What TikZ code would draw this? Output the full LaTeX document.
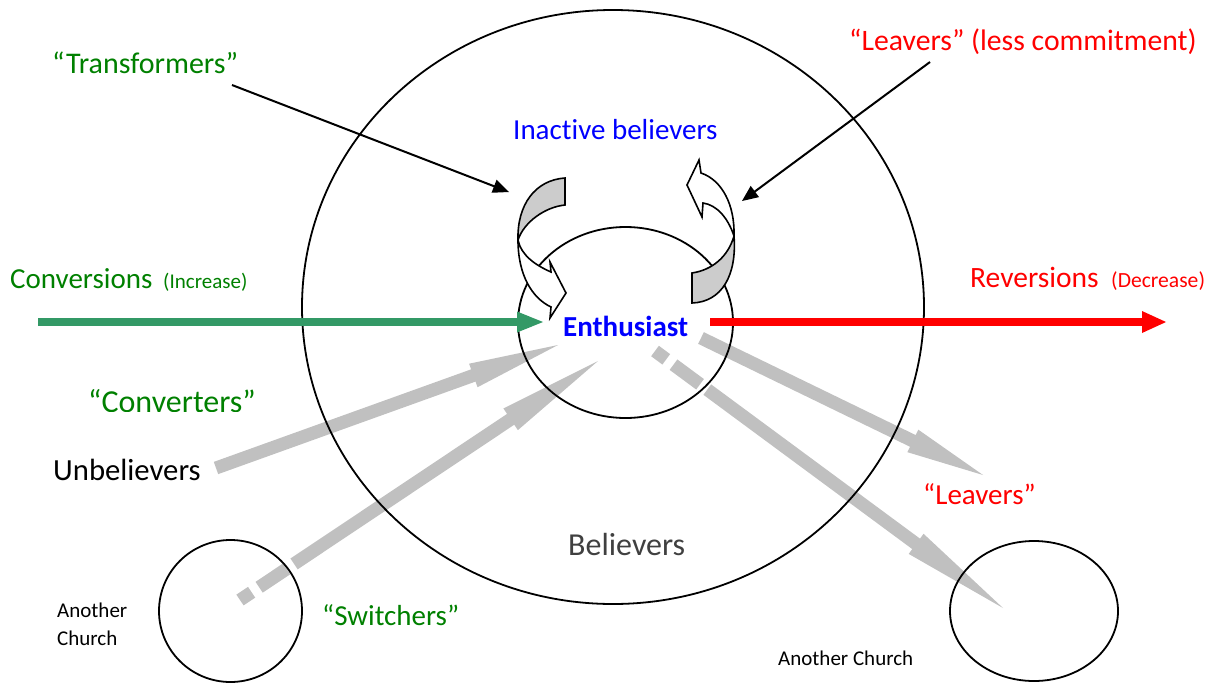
\documentclass[tikz,border=0pt]{standalone}
\usepackage{fontspec}
\setmainfont{Carlito}[Ligatures=NoCommon]
\usetikzlibrary{calc,shapes.geometric}
\definecolor{tgreen}{RGB}{0,128,0}
\definecolor{agreen}{RGB}{51,153,102}
\definecolor{tblue}{RGB}{0,0,255}
\definecolor{tred}{RGB}{255,0,0}
\definecolor{agray}{RGB}{192,192,192}
\definecolor{cgray}{RGB}{204,204,204}
\definecolor{bgray}{RGB}{64,64,64}
% #1 colour, #2 from, #3 to, #4 half width, #5 length
\newcommand\arrhead[5]{%
  \fill[#1] ($(#3)!#5!(#2)!#4!90:(#2)$) -- (#3) -- ($(#3)!#5!(#2)!#4!-90:(#2)$) -- cycle;}
\begin{document}
\begin{tikzpicture}[x=1pt,y=-1pt,
  txt/.style={anchor=base west, inner sep=0pt, font=\fontsize{29}{34}\selectfont},
  small/.style={anchor=base west, inner sep=0pt, font=\fontsize{21}{25}\selectfont},
  ring/.style={draw=black, line width=1.8pt, ellipse, inner sep=0pt},
  gshaft/.style={draw=agray, line width=13pt},
  gdashed/.style={gshaft, dash pattern=on 14pt off 9pt on 33pt off 9pt on 3000pt off 1pt},
  thinarrow/.style={draw=black, line width=2pt},
  curved/.style={draw=black, line width=1.6pt, line join=miter}]
\useasboundingbox (0,0) rectangle (1207,683);

% ---- gray block arrows
\coordinate (u1) at (216,468);  \coordinate (u2) at (558,345);
\coordinate (s1) at (240,600);  \coordinate (s2) at (598,361);
\coordinate (l1) at (701,338);  \coordinate (l2) at (983,475);
\coordinate (c1) at (655,351);  \coordinate (c2) at (1003,608);
\draw[gshaft] (u1) -- ($(u2)!88pt!(u1)$);
\arrhead{agray}{u1}{u2}{12.5pt}{90pt}
\draw[gdashed] (s1) -- ($(s2)!103pt!(s1)$);
\arrhead{agray}{s1}{s2}{13pt}{105pt}
\draw[gshaft] (l1) -- ($(l2)!76pt!(l1)$);
\arrhead{agray}{l1}{l2}{12.5pt}{78pt}
\draw[gdashed] (c1) -- ($(c2)!106pt!(c1)$);
\arrhead{agray}{c1}{c2}{12.5pt}{108pt}

% ---- circles
\node[ring, minimum width=622pt, minimum height=594pt] (believers) at (613,307) {};
\node[ring, minimum width=215pt, minimum height=191pt] (enthring) at (625.5,322.5) {};
\node[ring, minimum width=143pt, minimum height=142pt] (church1) at (230.5,611) {};
\node[ring, minimum width=168pt, minimum height=140pt] (church2) at (1034,611) {};

% ---- curved arrows (left)
\fill[cgray, curved] (565,178) .. controls (535,180) and (517,205) .. (518,240)
   .. controls (524,222) and (545,207) .. (565,205) -- cycle;
\fill[white, curved] (518,240) .. controls (518,275) and (532,298) .. (551,307)
   -- (550,318) -- (566,293) -- (550,262) -- (551,272)
   .. controls (535,265) and (521,255) .. (518,240) -- cycle;
% ---- curved arrows (right)
\fill[white, curved] (699,160) -- (701,173) .. controls (722,180) and (735,205) .. (734,236)
   .. controls (728,218) and (717,205) .. (703,203) -- (702,217) -- (687,185) -- cycle;
\fill[cgray, curved] (734,236) .. controls (737,275) and (722,302) .. (692,303)
   -- (692,273) .. controls (712,270) and (728,257) .. (734,236) -- cycle;

% ---- green and red arrows
\coordinate (gS) at (38,322);  \coordinate (gE) at (543,322);
\draw[agreen, line width=8pt] (gS) -- ($(gE)!24pt!(gS)$);
\arrhead{agreen}{gS}{gE}{10.5pt}{26pt}
\coordinate (rS) at (710,322); \coordinate (rE) at (1166,322);
\draw[tred, line width=8pt] (rS) -- ($(rE)!22pt!(rS)$);
\arrhead{tred}{rS}{rE}{11pt}{24pt}

% ---- thin black arrows
\coordinate (ta1) at (232,85);  \coordinate (ta2) at (509,192);
\draw[thinarrow] (ta1) -- ($(ta2)!13pt!(ta1)$);
\arrhead{black}{ta1}{ta2}{7pt}{16pt}
\coordinate (la1) at (930,62);  \coordinate (la2) at (742,201);
\draw[thinarrow] (la1) -- ($(la2)!13pt!(la1)$);
\arrhead{black}{la1}{la2}{7pt}{16pt}

% ---- texts
\node[txt, text=tgreen, font=\fontsize{30}{35}\selectfont] (transformers) at (52,73) {“Transformers”};
\node[txt, text=tred, font=\fontsize{29.7}{35}\selectfont] (lessc) at (849,50) {“Leavers” (less commitment)};
\node[txt, text=tblue] (inactive) at (513,139) {Inactive believers};
\node[txt, text=tgreen] (conv) at (10,288) {Conversions};
\node[small, text=tgreen] (incr) at (163,288) {(Increase)};
\node[txt, text=tred, font=\fontsize{29.5}{35}\selectfont] (rev) at (970,287) {Reversions};
\node[small, text=tred, font=\fontsize{21.6}{25}\selectfont] (decr) at (1111,287) {(Decrease)};
\node[txt, text=tblue, font=\fontsize{29}{34}\selectfont\bfseries] (enth) at (563,336) {Enthusiast};
\begin{scope}
  \clip (60,370) rectangle (300,411);
  \node[txt, text=tgreen, font=\fontsize{32}{38}\selectfont] (converters) at (88,412) {“Converters”};
\end{scope}
\node[txt, text=black, font=\fontsize{30.7}{36}\selectfont] (unbel) at (53,480) {Unbelievers};
\node[txt, text=tred] (leavers) at (923,504) {“Leavers”};
\node[txt, text=bgray, font=\fontsize{32}{38}\selectfont] (bel) at (568,555) {Believers};
\node[txt, text=tgreen] (switch) at (322,625) {“Switchers”};
\node[small] (another1) at (57,617) {Another};
\node[small] (church1t) at (57,645) {Church};
\node[small] (another2) at (778,665) {Another Church};
\end{tikzpicture}
\end{document}
